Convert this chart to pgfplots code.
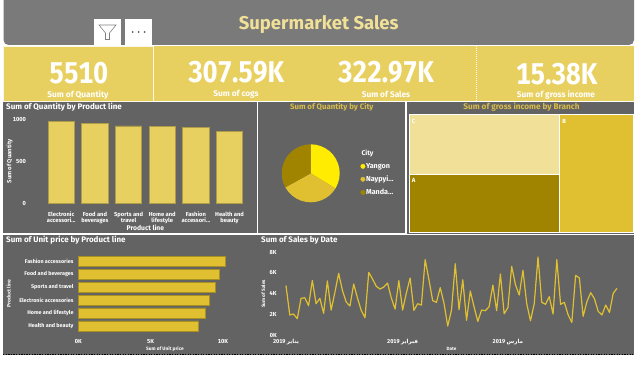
\documentclass[border=0pt]{standalone}
\usepackage{fontspec}
\usepackage{pgfplots}
\pgfplotsset{compat=1.18}
\setmainfont[Numbers={Tabular,Lining}]{Fira Sans}
\newfontfamily\arabicfont[Script=Arabic]{DejaVu Sans}
\TeXXeTstate=1
\definecolor{panel}{HTML}{636363}
\definecolor{head}{HTML}{7A7A7A}
\definecolor{kpi}{HTML}{E8D060}
\definecolor{gold}{HTML}{E0C030}
\definecolor{dgold}{HTML}{A08400}
\definecolor{lgold}{HTML}{F0E098}
\definecolor{yell}{HTML}{FFEC00}
\definecolor{ttl}{HTML}{D9BC4A}
\newcommand{\fs}[1]{\bfseries\fontsize{#1}{#1}\selectfont}
\pgfplotsset{dash/.style={
  scale only axis, axis line style={draw=none}, tick style={draw=none},
  /pgf/number format/assume math mode=true,
  /pgf/number format/1000 sep={},
  every axis title shift=0pt,
  tick label style={font=\fs{5.8},text=white},
  label style={font=\fs{5.5},text=white},
  clip=false}}
\begin{document}
\begin{tikzpicture}[x=1pt,y=-1pt]
\useasboundingbox (0,0) rectangle (638,369);
\fill[white] (0,0) rectangle (638,369);
% header
\fill[head,rounded corners=5pt] (3.5,-8) rectangle (634,45);
\node[font=\fs{18.5},text=lgold] at (318.7,24.5) {Supermarket Sales};
\fill[white] (94,19) rectangle (121,45);
\fill[white] (125,19) rectangle (152,45);
\draw[gray,line width=.6pt] (99,25) -- (116,25) -- (109.5,33) -- (109.5,39.5) -- (105.5,39.5) -- (105.5,33) -- cycle;
\foreach \x in {132.5,138.5,144.5}{\fill[gray!70!black] (\x,32) circle (1pt);}
% kpi
\fill[kpi] (3.5,46) rectangle (634,101.5);
\draw[white!85!kpi,line width=.7pt] (3.5,46.5) rectangle (153,101);
\draw[white,dash pattern=on 1pt off 1pt,line width=.5pt] (476,46) -- (476,101);
\node[font=\fs{30},text=white,xscale=.87] at (78.7,72.7) {5510};
\node[font=\fs{30},text=white,xscale=.87] at (236.3,72.3) {307.59K};
\node[font=\fs{30},text=white,xscale=.87] at (386,72.3) {322.97K};
\node[font=\fs{30},text=white,xscale=.87] at (556.7,73.7) {15.38K};
\node[font=\fs{8.3},text=white] at (78,95.3) {Sum of Quantity};
\node[font=\fs{8.3},text=white] at (236,94) {Sum of cogs};
\node[font=\fs{8.3},text=white] at (386,94) {Sum of Sales};
\node[font=\fs{8.3},text=white] at (556,95.3) {Sum of gross income};
% panels
\fill[panel] (3,102) rectangle (257,233);
\fill[panel] (258,102) rectangle (405,233);
\fill[panel] (407,102) rectangle (634,233.5);
\fill[panel] (3,235) rectangle (258,355);
\fill[panel] (258,235) rectangle (634,355);
\draw[black,dash pattern=on 1.3pt off 1.3pt,line width=1.3pt] (3,354.7) -- (634,354.7);

% bars: quantity
\begin{axis}[dash, at={(44.4pt,-203.7pt)}, anchor=south west, width=202pt, height=84.7pt,
  ybar, bar width=26.3pt, xmin=-0.5, xmax=5.5, ymin=0, ymax=1000,
  xtick={0,1,2,3,4,5},
  xticklabels={{Electronic\\accessori.{}.{}.},{Food and\\beverages},{Sports and\\travel},{Home and\\lifestyle},{Fashion\\accessori.{}.{}.},{Health and\\beauty}},
  x tick label style={align=center,font=\fs{5.8}},
  xtick pos=bottom, ytick pos=left,
  ytick={0,500,1000},
  xticklabel shift=0.5pt, yticklabel shift=15pt,
  title={Sum of Quantity by Product line},
  title style={font=\fs{8},text=white,anchor=west,inner sep=0pt,at={(axis description cs:-0.19,1.142)}},
  xlabel={Product line}, xlabel style={font=\fs{6.8},at={(axis description cs:0.5,-0.29)},anchor=center},
  ylabel={Sum of Quantity}, ylabel style={font=\fs{6},at={(axis description cs:-0.172,0.5)},anchor=center}]
\addplot[fill=kpi,draw=kpi!75!black,line width=.5pt] coordinates {(0,971) (1,952) (2,920) (3,911) (4,902) (5,854)};
\end{axis}

% pie
\begin{axis}[dash, hide axis, at={(310.7pt,-173.3pt)}, anchor=center, width=60pt, height=60pt,
  xmin=-1.0345, xmax=1.0345, ymin=-1.0345, ymax=1.0345,
  title={Sum of Quantity by City},
  title style={font=\fs{7.8},text=ttl,anchor=center,at={(axis description cs:0.852,1.6)}},
  legend cell align=left,
  legend style={draw=none,fill=none,font=\fs{7.2},text=white,at={(1.33,0.69)},anchor=north west,
    row sep=4pt, inner sep=0pt, nodes={inner sep=1pt}}]
\addplot[fill=yell,draw=none,data cs=polar,forget plot] coordinates {(0,0) (90,1) (80,1) (70,1) (60,1) (50,1) (40,1) (30,1) (20,1) (10,1) (0,1) (-10,1) (-20,1) (-30,1) (-31.5,1)} -- cycle;
\addplot[fill=gold,draw=none,data cs=polar,forget plot] coordinates {(0,0) (-31.5,1) (-40,1) (-50,1) (-60,1) (-70,1) (-80,1) (-90,1) (-100,1) (-110,1) (-120,1) (-130,1) (-140,1) (-150,1) (-151,1)} -- cycle;
\addplot[fill=dgold,draw=none,data cs=polar,forget plot] coordinates {(0,0) (-151,1) (-160,1) (-170,1) (-180,1) (-190,1) (-200,1) (-210,1) (-220,1) (-230,1) (-240,1) (-250,1) (-260,1) (-270,1)} -- cycle;
\addlegendimage{only marks,mark=*,mark size=2.2pt,color=yell}
\addlegendentry{Yangon}
\addlegendimage{only marks,mark=*,mark size=2.2pt,color=gold}
\addlegendentry{Naypyi.{}.{}.}
\addlegendimage{only marks,mark=*,mark size=2.2pt,color=dgold}
\addlegendentry{Manda.{}.{}.}
\end{axis}
\node[font=\fs{6.8},text=white,anchor=west] at (358,153.7) {City};

% treemap
\begin{axis}[dash, hide axis, at={(409.3pt,-232.7pt)}, anchor=south west, width=224.4pt, height=118pt,
  xmin=0, xmax=224.4, ymin=0, ymax=118,
  title={Sum of gross income by Branch},
  title style={font=\fs{8.2},text=ttl,anchor=center,at={(axis description cs:0.5,1.063)}}]
\addplot[fill=lgold,draw=white,line width=.8pt] coordinates {(0,58) (150.5,58) (150.5,118) (0,118)} -- cycle;
\addplot[fill=dgold,draw=white,line width=.8pt] coordinates {(0,0) (150.5,0) (150.5,58) (0,58)} -- cycle;
\addplot[fill=gold,draw=white,line width=.8pt] coordinates {(150.5,0) (224.4,0) (224.4,118) (150.5,118)} -- cycle;
\node[font=\fs{6},text=white,anchor=west] at (axis cs:-1,111.5) {C};
\node[font=\fs{6},text=white,anchor=west] at (axis cs:-1,52) {A};
\node[font=\fs{6},text=white,anchor=west] at (axis cs:149.5,111.5) {B};
\end{axis}

% hbar
\begin{axis}[dash, at={(78.3pt,-332.5pt)}, anchor=south west, width=151.9pt, height=77.7pt,
  xbar, bar width=10.2pt, y dir=reverse, xmin=0, xmax=10500, ymin=-0.5, ymax=5.5,
  ytick={0,1,2,3,4,5},
  yticklabels={Fashion accessories,Food and beverages,Sports and travel,Electronic accessories,Home and lifestyle,Health and beauty},
  y tick label style={font=\fs{5.4}}, yticklabel shift=-3pt,
  xtick={0,5000,10000}, xticklabels={0K,5K,10K},
  xticklabel shift=3.5pt, scaled x ticks=false,
  title={Sum of Unit price by Product line},
  title style={font=\fs{8},text=white,anchor=west,inner sep=0pt,at={(axis description cs:-0.476,1.187)}},
  xlabel={Sum of Unit price}, xlabel style={font=\fs{4.8},at={(axis description cs:0.57,-0.214)},anchor=center},
  ylabel={Product line}, ylabel style={font=\fs{5},at={(axis description cs:-0.458,0.5)},anchor=center}]
\addplot[fill=gold,draw=gold!75!black,line width=.5pt] coordinates {(10170,0) (9720,1) (9450,2) (9080,3) (8800,4) (8320,5)};
\end{axis}

% line
\begin{axis}[dash, at={(286pt,-335.7pt)}, anchor=south west, width=331pt, height=83.7pt,
  xmin=0, xmax=88, ymin=0, ymax=8,
  ytick={2,4,6,8}, yticklabels={2K,4K,6K,8K}, yticklabel shift=6pt,
  xtick={0,31,59},
  xticklabels={{2019 {\arabicfont\beginR يناير\endR}},{2019 {\arabicfont\beginR فبراير\endR}},{2019 {\arabicfont\beginR مارس\endR}}},
  x tick label style={font=\fs{5.6}}, xticklabel shift=0pt,
  title={Sum of Sales by Date},
  title style={font=\fs{8},text=white,anchor=west,inner sep=0pt,at={(axis description cs:-0.0755,1.14)}},
  xlabel={Date}, xlabel style={font=\fs{4.6},at={(axis description cs:0.5,-0.16)},anchor=center},
  ylabel={Sum of Sales}, ylabel style={font=\fs{4.8},at={(axis description cs:-0.0685,0.5)},anchor=center}]
\addplot[gold,line width=1.2pt,line join=round] coordinates {
(0,4.8)(1,1.98)(2,2.07)(3,1.63)(4,3.57)(5,3.63)(6,2.87)(7,5.29)(8,3.06)(9,3.57)
(10,2.13)(11,5.23)(12,2.45)(13,4.14)(14,5.96)(15,4.33)(16,3.22)(17,2.84)(18,4.94)(19,3.6)
(20,2.42)(21,1.72)(22,6.05)(23,5.42)(24,4.72)(25,4.46)(26,4.65)(27,5.03)(28,3.6)(29,2.55)
(30,5.26)(31,2.45)(32,4.08)(33,5.51)(34,2.42)(35,3.06)(36,2.93)(37,7.27)(38,5.35)(39,3.35)
(40,3.19)(41,4.59)(42,3.12)(43,0.92)(44,2.45)(45,6.88)(46,2.49)(47,5.35)(48,1.47)(49,4.27)
(50,2.74)(51,1.37)(52,2.45)(53,2.39)(54,2.77)(55,4.84)(56,2.39)(57,5.9)(58,2.1)(59,2.68)
(60,6.63)(61,4.88)(62,3.89)(63,6.25)(64,3.06)(65,1.43)(66,3.06)(67,7.52)(68,3.19)(69,3.0)
(70,3.73)(71,2.07)(72,7.27)(73,3.0)(74,3.19)(75,2.0)(76,1.27)(77,5.77)(78,5.51)(79,1.85)
(80,3.25)(81,4.11)(82,3.54)(83,2.33)(84,1.98)(85,2.93)(86,2.23)(87,4.05)(88,4.53)};
\node[font=\fs{5.8},text=white,anchor=east,inner sep=0pt] at (axis cs:-2.4,0) {0K};
\end{axis}
\end{tikzpicture}
\end{document}
